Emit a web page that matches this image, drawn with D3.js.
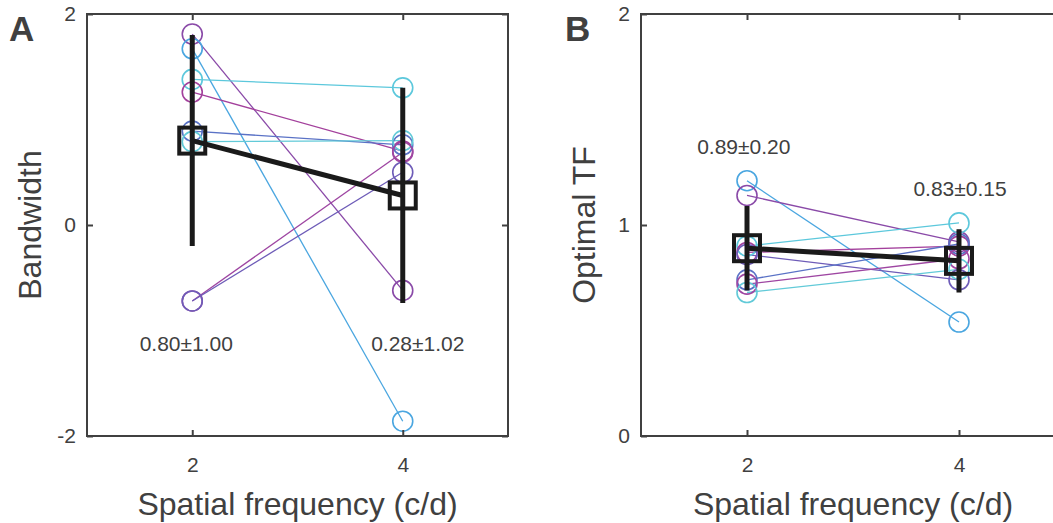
<!DOCTYPE html>
<html>
<head>
<meta charset="utf-8">
<script src="https://cdn.jsdelivr.net/npm/d3@7"></script>
<style>
  body { margin: 0; background: #fff; }
  text { font-family: "Liberation Sans", Arial, Helvetica, sans-serif; fill: #404040; }
</style>
</head>
<body>
<script>
// spatial frequencies (c/d)
const sfs = [2, 4];

// panel A: bandwidth per subject at 2 and 4 c/d
const bwAt2 = [1.81, 1.67, 1.38, 1.26, 0.89, 0.79, -0.72, -0.72];
const bwAt4 = [-0.62, -1.86, 1.30, 0.70, 0.76, 0.80, 0.69, 0.50];
const bwColors = ['#8a4aa8', '#4aa6e0', '#5cc8dc', '#a3409c', '#5a72c6', '#62cad8', '#9e46a2', '#6e5cb8'];
const bwMean = [0.80, 0.28];
const bwSd = [1.00, 1.02];
const bwYTicks = [-2, 0, 2];

// panel B: optimal TF per subject
const tfAt2 = [1.21, 1.14, 0.90, 0.87, 0.86, 0.74, 0.72, 0.68];
const tfAt4 = [0.54, 0.92, 1.01, 0.90, 0.74, 0.91, 0.84, 0.79];
const tfColors = ['#4aa6e0', '#8a4aa8', '#5cc8dc', '#a3409c', '#6e5cb8', '#5a72c6', '#9e46a2', '#62cad8'];
const tfMean = [0.89, 0.83];
const tfSd = [0.20, 0.15];
const tfYTicks = [0, 1, 2];

// label positions (data units) for the mean±sd texts
const bwLabelPos = [[1.5, -1.19], [3.7, -1.19]];
const tfLabelPos = [[1.53, 1.335], [3.57, 1.137]];

const svg = d3.select('body').append('svg')
  .attr('width', 1053)
  .attr('height', 523);

function drawPanel(opt) {
  const x = d3.scaleLinear().domain([1, 5]).range([opt.left, opt.right]);
  const y = d3.scaleLinear().domain(opt.yDomain).range([436, 14]);
  const g = svg.append('g');

  // subject lines + circles
  const subj = opt.at2.map((v, i) => ({a: v, b: opt.at4[i], c: opt.colors[i]}));
  g.selectAll('line.subj').data(subj).join('line')
    .attr('class', 'subj')
    .attr('x1', x(sfs[0])).attr('x2', x(sfs[1]))
    .attr('y1', (d) => y(d.a)).attr('y2', (d) => y(d.b))
    .attr('stroke', (d) => d.c).attr('stroke-width', 1.3);
  const pts = [];
  subj.forEach((d) => { pts.push({sf: sfs[0], v: d.a, c: d.c}); pts.push({sf: sfs[1], v: d.b, c: d.c}); });
  g.selectAll('circle').data(pts).join('circle')
    .attr('cx', (d) => x(d.sf)).attr('cy', (d) => y(d.v))
    .attr('r', 10)
    .attr('fill', 'none').attr('stroke', (d) => d.c).attr('stroke-width', 1.6);

  // mean line, error bars, squares
  g.append('line')
    .attr('x1', x(sfs[0])).attr('x2', x(sfs[1]))
    .attr('y1', y(opt.mean[0])).attr('y2', y(opt.mean[1]))
    .attr('stroke', '#1a1a1a').attr('stroke-width', 5);
  g.selectAll('line.err').data(sfs).join('line')
    .attr('class', 'err')
    .attr('x1', (d) => x(d)).attr('x2', (d) => x(d))
    .attr('y1', (d, i) => y(opt.mean[i] + opt.sd[i]))
    .attr('y2', (d, i) => y(opt.mean[i] - opt.sd[i]))
    .attr('stroke', '#1a1a1a').attr('stroke-width', 5);
  g.selectAll('rect.mean').data(sfs).join('rect')
    .attr('class', 'mean')
    .attr('x', (d) => x(d) - 13).attr('y', (d, i) => y(opt.mean[i]) - 13)
    .attr('width', 26).attr('height', 26)
    .attr('fill', 'none').attr('stroke', '#1a1a1a').attr('stroke-width', 4);

  // mean ± sd texts
  g.selectAll('text.stat').data(sfs).join('text')
    .attr('class', 'stat')
    .attr('x', (d, i) => x(opt.labelPos[i][0]))
    .attr('y', (d, i) => y(opt.labelPos[i][1]))
    .style('font-size', '21px')
    .text((d, i) => opt.mean[i].toFixed(2) + '±' + opt.sd[i].toFixed(2));

  // box
  g.append('rect')
    .attr('x', opt.left).attr('y', 14)
    .attr('width', opt.right - opt.left).attr('height', 436 - 14)
    .attr('fill', 'none').attr('stroke', '#404040').attr('stroke-width', 2);

  // axes, ticks pointing inwards; plain "-2" style labels
  const fmt = (d) => String(d);
  const ax = [
    [d3.axisBottom(x).tickValues(sfs).tickFormat(fmt).tickSizeInner(-6).tickSizeOuter(0).tickPadding(21), `translate(0,436)`],
    [d3.axisTop(x).tickValues(sfs).tickSizeInner(-6).tickSizeOuter(0).tickFormat(''), `translate(0,14)`],
    [d3.axisLeft(y).tickValues(opt.yTicks).tickFormat(fmt).tickSizeInner(-6).tickSizeOuter(0).tickPadding(11), `translate(${opt.left},0)`],
    [d3.axisRight(y).tickValues(opt.yTicks).tickSizeInner(-6).tickSizeOuter(0).tickFormat(''), `translate(${opt.right},0)`]
  ];
  ax.forEach(([a, t]) => {
    const ga = g.append('g').attr('transform', t).call(a);
    ga.select('.domain').remove();
    ga.selectAll('line').attr('stroke', '#404040').attr('stroke-width', 2);
    ga.selectAll('text').style('font-size', '21px').attr('fill', '#404040')
      .style('font-family', '"Liberation Sans", Arial, sans-serif');
  });

  // axis titles
  g.append('text')
    .attr('x', (opt.left + opt.right) / 2).attr('y', 515)
    .attr('text-anchor', 'middle').style('font-size', '32px')
    .text('Spatial frequency (c/d)');
  g.append('text')
    .attr('transform', `translate(${opt.yTitleX},225) rotate(-90)`)
    .attr('text-anchor', 'middle').style('font-size', '32px')
    .text(opt.yTitle);

  // panel letter
  g.append('text')
    .attr('x', opt.letterX).attr('y', 41)
    .style('font-size', '35px').style('font-weight', 'bold')
    .text(opt.letter);
}

drawPanel({left: 87, right: 508, yDomain: [-2, 2], yTicks: bwYTicks,
  at2: bwAt2, at4: bwAt4, colors: bwColors, mean: bwMean, sd: bwSd,
  labelPos: bwLabelPos, yTitle: 'Bandwidth', yTitleX: 41, letter: 'A', letterX: 9});

drawPanel({left: 641, right: 1065, yDomain: [0, 2], yTicks: tfYTicks,
  at2: tfAt2, at4: tfAt4, colors: tfColors, mean: tfMean, sd: tfSd,
  labelPos: tfLabelPos, yTitle: 'Optimal TF', yTitleX: 595, letter: 'B', letterX: 565});
</script>
</body>
</html>
